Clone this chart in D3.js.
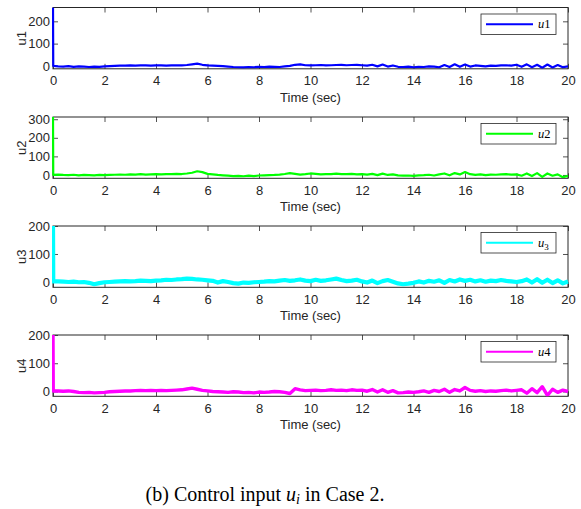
<!DOCTYPE html>
<html>
<head>
<meta charset="utf-8">
<script src="https://cdn.jsdelivr.net/npm/d3@7"></script>
<style>
  body { margin: 0; background: #fff; }
  text { font-family: "Liberation Sans", Arial, sans-serif; }
</style>
</head>
<body>
<svg id="fig" width="581" height="509"></svg>
<script>
// Sample times (s): initial instant, just after it, then every 0.2 s up to 20 s
const time = [0, 0.01].concat(d3.range(1, 101).map(i => +(i * 0.2).toFixed(1)));

const xTicks = [0, 2, 4, 6, 8, 10, 12, 14, 16, 18, 20];

// Control inputs u1..u4 (initial impulse, then values every 0.2 s)
const u1 = [262, 0,
  -2, -3, -1, -4, -2, -3, -5, -3, -4, -2,
  -1, 0, 1, 1, 2, 1, 2, 2, 1, 2,
  2, 1, 2, 3, 2, 4, 7, 10, 5, 2,
  1, 0, -1, -3, -5, -6, -7, -5, -6, -4,
  -5, -3, -4, -5, -2, 0, 5, 7, 3, 2,
  3, 4, 2, 3, 4, 5, 3, 4, 5, 3,
  1, 5, -2, 6, -3, 2, -4, -5, -3, -6,
  -4, -5, -2, -3, -6, 4, -5, 7, -4, 6,
  -3, 2, 0, -2, 1, 0, 2, 3, 1, 5,
  -4, 7, -6, 5, -8, 6, -7, 4, -6, -2];

const u2 = [312, 0,
  2, 0, -1, 1, -2, 0, -1, -2, 0, -1,
  0, 1, 2, 1, 3, 2, 4, 2, 3, 4,
  3, 5, 4, 6, 5, 8, 12, 20, 15, 6,
  3, 0, -2, -4, -6, -5, -7, -4, -6, -3,
  -2, -1, 0, 2, 5, 10, 6, 2, 4, 8,
  6, 3, 4, 5, 7, 4, 5, 6, 3, 4,
  2, 6, -1, 7, 0, 3, -2, -4, -3, -5,
  -2, -1, 1, -3, 3, 8, -2, 10, 3, 16,
  4, 0, 3, -1, 2, 1, 3, 4, 2, 3,
  -4, 8, -6, 10, -10, 8, -4, 3, -12, -5];

const u3 = [200, 2,
  2, 1, 0, 1, -1, 0, -3, -8, -4, -1,
  0, 1, 2, 3, 2, 3, 5, 4, 3, 5,
  6, 8, 7, 9, 10, 12, 11, 9, 8, 6,
  4, -2, 3, 0, -4, -6, -2, -3, -1, 0,
  1, 3, 2, 5, 7, 4, 6, 9, 5, 3,
  8, 4, 6, 9, 12, 7, 3, 5, 8, 2,
  -2, 5, -4, 3, 7, 1, -5, -8, -6, -3,
  2, -2, 4, 1, 6, -3, 7, 2, 9, 4,
  8, 2, 6, 1, 5, 3, 7, 4, 2, 0,
  3, 9, -2, 10, -3, 8, -4, 6, -5, 2];

const u4 = [200, 2,
  2, 1, 2, 0, -3, -4, -3, -5, -4, -3,
  -1, 0, 1, 2, 2, 3, 4, 3, 4, 3,
  4, 3, 4, 5, 6, 9, 12, 8, 4, 2,
  0, -1, -2, -3, -1, -2, -4, -3, -5, -2,
  -3, -2, 0, -1, -3, -7, 10, 6, 3, 4,
  5, 3, 4, 6, 4, 5, 3, 6, 4, 5,
  1, 7, -2, 6, -3, 3, -5, -4, -2, -3,
  -1, 2, -3, 4, 0, 8, -3, 7, 2, 14,
  4, 1, 3, 0, 2, 1, 3, 5, 2, 4,
  6, -6, 10, -4, 17, -14, 8, -3, 5, 0];

const yLabels = ["u1", "u2", "u3", "u4"];
const yDomains = [[-13, 262], [-18, 312], [-19, 200], [-17, 200]];
const yTicks = [[0, 100, 200], [0, 100, 200, 300], [0, 100, 200], [0, 100, 200]];
const colors = ["#0000ff", "#00ff00", "#00ffff", "#ff00ff"];
const legendNames = [["u", "1", false], ["u", "2", false], ["u", "3", true], ["u", "4", false]];
const series = [u1, u2, u3, u4];

const xLabel = "Time (sec)";
const caption = "(b) Control input ";

// Layout
const left = 53, right = 568;
const panelTops = [7.5, 117, 226, 335];
const panelHeight = 61.3;
const strokeWidths = [2.2, 2.2, 4.2, 3.4];
const axisColor = "#262626";
const tickLen = 5;

const svg = d3.select("#fig");
const x = d3.scaleLinear().domain([0, 20]).range([left, right]);

series.forEach((vals, k) => {
  const top = panelTops[k], bottom = top + panelHeight;
  const y = d3.scaleLinear().domain(yDomains[k]).range([bottom, top]);
  const g = svg.append("g");

  // clip region for the data line
  svg.append("clipPath").attr("id", "clip" + k)
    .append("rect").attr("x", left - 1).attr("y", top).attr("width", right - left + 2).attr("height", panelHeight);

  // bottom axis with labels, inner ticks
  const xb = g.append("g").attr("transform", `translate(0,${bottom})`)
    .call(d3.axisBottom(x).tickValues(xTicks).tickSizeInner(-tickLen).tickSizeOuter(0).tickPadding(7));
  // top axis ticks
  const xt = g.append("g").attr("transform", `translate(0,${top})`)
    .call(d3.axisTop(x).tickValues(xTicks).tickSizeInner(-tickLen).tickSizeOuter(0).tickFormat(""));
  // left axis with labels
  const yl = g.append("g").attr("transform", `translate(${left},0)`)
    .call(d3.axisLeft(y).tickValues(yTicks[k]).tickSizeInner(-tickLen).tickSizeOuter(0).tickPadding(3));
  // right axis ticks
  const yr = g.append("g").attr("transform", `translate(${right},0)`)
    .call(d3.axisRight(y).tickValues(yTicks[k]).tickSizeInner(-tickLen).tickSizeOuter(0).tickFormat(""));

  [xb, xt, yl, yr].forEach(a => {
    a.select(".domain").remove();
    a.selectAll("line").attr("stroke", axisColor).attr("stroke-width", 0.8);
    a.selectAll("text").attr("fill", axisColor).style("font-size", "13px")
      .style("font-family", "'Liberation Sans', Arial, sans-serif");
  });

  // axes box
  g.append("rect").attr("x", left).attr("y", top).attr("width", right - left).attr("height", panelHeight)
    .attr("fill", "none").attr("stroke", axisColor).attr("stroke-width", 1);

  // data line
  const line = d3.line().x((d, i) => x(time[i])).y(d => y(d));
  g.append("path").datum(vals)
    .attr("clip-path", `url(#clip${k})`)
    .attr("d", line).attr("fill", "none")
    .attr("stroke", colors[k]).attr("stroke-width", strokeWidths[k])
    .attr("stroke-linejoin", "round");

  // x axis title
  g.append("text").attr("x", x(10)).attr("y", bottom + 33)
    .attr("text-anchor", "middle").attr("fill", axisColor).style("font-size", "13px").text(xLabel);

  // y axis title
  g.append("text").attr("transform", `translate(${21},${(top + bottom) / 2}) rotate(-90)`)
    .attr("text-anchor", "middle").attr("dominant-baseline", "central")
    .attr("fill", axisColor).style("font-size", "13px").text(yLabels[k]);

  // legend
  const lx = 481, ly = top + 6.5, lw = 75, lh = 20.5;
  const lg = g.append("g");
  lg.append("rect").attr("x", lx).attr("y", ly).attr("width", lw).attr("height", lh)
    .attr("fill", "#fff").attr("stroke", axisColor).attr("stroke-width", 0.8);
  lg.append("line").attr("x1", lx + 5).attr("x2", lx + 52).attr("y1", ly + lh / 2).attr("y2", ly + lh / 2)
    .attr("stroke", colors[k]).attr("stroke-width", 1.8);
  const [base, idx, sub] = legendNames[k];
  const lt = lg.append("text").attr("x", lx + 57).attr("y", ly + lh / 2 + 4)
    .style("font-family", "'Liberation Serif', 'Times New Roman', serif").style("font-size", "12.5px")
    .attr("fill", "#000");
  lt.append("tspan").style("font-style", "italic").text(base);
  if (sub) {
    lt.append("tspan").attr("dy", 3).style("font-size", "9px").text(idx);
  } else {
    lt.append("tspan").text(idx);
  }
});

// figure caption
const cap = svg.append("text").attr("x", 265).attr("y", 501).attr("text-anchor", "middle")
  .style("font-family", "'Liberation Serif', 'Times New Roman', serif").style("font-size", "20px")
  .attr("fill", "#000");
cap.append("tspan").text(caption);
cap.append("tspan").style("font-style", "italic").text("u");
cap.append("tspan").attr("dy", 3).style("font-size", "14px").style("font-style", "italic").text("i");
cap.append("tspan").attr("dy", -3).text(" in Case 2.");
</script>
</body>
</html>
